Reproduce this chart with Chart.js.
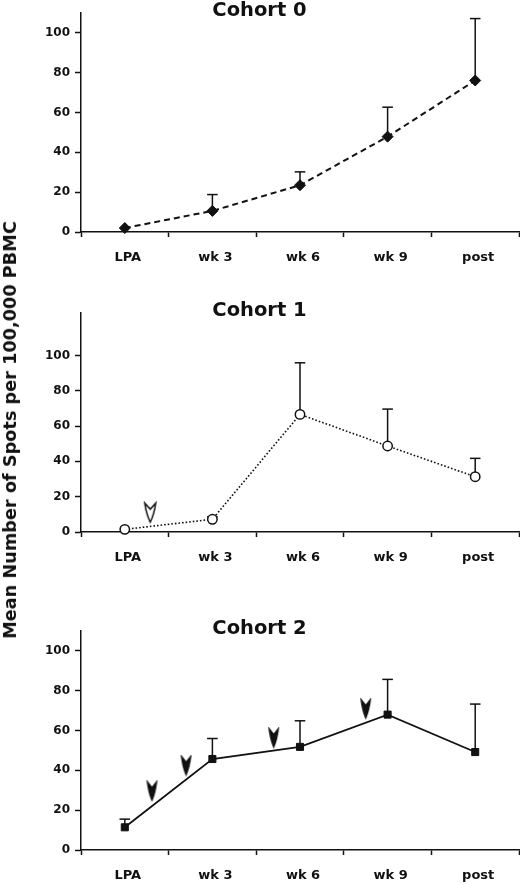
<!DOCTYPE html>
<html>
<head>
<meta charset="utf-8">
<script src="https://cdn.jsdelivr.net/npm/chart.js@4.4.1/dist/chart.umd.min.js"></script>
<style>
  html, body { margin: 0; padding: 0; background: #ffffff; }
  body { width: 520px; height: 884px; position: relative; overflow: hidden; }
  canvas { position: absolute; left: 0; }
  #ytitle {
    position: absolute; left: 9.5px; top: 430px;
    transform: translate(-50%, -50%) rotate(-90deg);
    font-family: "DejaVu Sans", sans-serif; font-weight: bold; font-size: 17.7px;
    color: #111; white-space: nowrap;
  }
</style>
</head>
<body>
<canvas id="c0" width="520" height="266" style="top:0px"></canvas>
<canvas id="c1" width="520" height="266" style="top:300px"></canvas>
<canvas id="c2" width="520" height="266" style="top:618px"></canvas>
<div id="ytitle">Mean Number of Spots per 100,000 PBMC</div>
<script>
// ---- data ----
const categories = ['LPA', 'wk 3', 'wk 6', 'wk 9', 'post'];
const yTickValues = [0, 20, 40, 60, 80, 100];
const titles = ['Cohort 0', 'Cohort 1', 'Cohort 2'];

const cohort0 = [2, 10.6, 23.5, 47.9, 76.1];
const cohort0Upper = [null, 18.8, 30.2, 62.7, 107.2];

const cohort1 = [1.5, 7.2, 66.6, 48.7, 31.3];
const cohort1Upper = [null, 8.6, 95.8, 69.6, 41.7];
const cohort1ArrowX = [0.29];
const cohort1ArrowY = [11];

const cohort2 = [11.4, 45.7, 51.8, 68, 49.2];
const cohort2Upper = [15.5, 56, 64.9, 85.7, 73.3];
const cohort2ArrowX = [0.31, 0.70, 1.70, 2.75];
const cohort2ArrowY = [29.6, 42.4, 56.3, 70.9];

const yMax = [110, 124, 110];

// ---- styling ----
const INK = '#111111';
Chart.defaults.font.family = '"DejaVu Sans", sans-serif';
Chart.defaults.font.weight = 'bold';
Chart.defaults.color = INK;

function arrowImage(w, h, fill) {
  const pad = 2;
  const c = document.createElement('canvas');
  c.width = w + pad * 2; c.height = h + pad * 2;
  const g = c.getContext('2d');
  g.beginPath();
  g.moveTo(pad, pad);
  g.lineTo(pad + w / 2, pad + h * 0.32);
  g.lineTo(pad + w, pad);
  g.quadraticCurveTo(pad + w * 0.85, pad + h * 0.6, pad + w / 2, pad + h);
  g.quadraticCurveTo(pad + w * 0.15, pad + h * 0.6, pad, pad);
  g.closePath();
  g.fillStyle = fill;
  g.fill();
  g.lineWidth = 1.5;
  g.strokeStyle = INK;
  g.stroke();
  return c;
}

function errorSets(vals, uppers) {
  const out = [];
  uppers.forEach((u, i) => {
    if (u == null) return;
    out.push({
      data: [{ x: categories[i], y: vals[i] }, { x: categories[i], y: u }],
      borderColor: INK, borderWidth: 1.5,
      pointStyle: 'line', pointRadius: [0, 5.3], pointHoverRadius: 0,
      pointBorderColor: INK, pointBorderWidth: 1.5,
      fill: false, order: 2, clip: false
    });
  });
  return out;
}

function arrowSet(xs, ys, img) {
  return {
    xAxisID: 'xa',
    data: xs.map((x, i) => ({ x: x, y: ys[i] })),
    showLine: false,
    pointStyle: img, pointRadius: 10,
    order: 3, clip: false
  };
}

function makeChart(id, idx, mainSet, extra) {
  new Chart(document.getElementById(id), {
    type: 'line',
    data: { labels: categories, datasets: [mainSet].concat(extra) },
    options: {
      responsive: false, animation: false,
      layout: { autoPadding: false, padding: { left: 0, right: 1, top: 0, bottom: 0 } },
      plugins: {
        legend: { display: false }, tooltip: { enabled: false },
        title: {
          display: true, text: titles[idx], color: INK,
          font: { size: 19.5, weight: 'bold' },
          padding: { top: -1, bottom: -9.4 }
        }
      },
      scales: {
        x: {
          type: 'category', offset: true,
          afterFit: s => { s.height = 34; s.paddingLeft = 0; s.paddingRight = 0; },
          grid: { display: true, offset: true, drawOnChartArea: false, drawTicks: true,
                  tickLength: 5, tickWidth: 1.5, tickColor: INK },
          border: { display: true, color: INK, width: 1.5 },
          ticks: { font: { size: 13, weight: 'bold' }, color: INK, padding: 13,
                   labelOffset: 3, maxRotation: 0, autoSkip: false }
        },
        xa: {
          type: 'linear', display: false, min: -0.5, max: 4.5,
          afterFit: s => { s.height = 0; s.paddingLeft = 0; s.paddingRight = 0; }
        },
        y: {
          min: 0, max: yMax[idx],
          afterBuildTicks: s => { s.ticks = yTickValues.map(v => ({ value: v })); },
          afterFit: s => { s.width = 81; },
          grid: { display: true, drawOnChartArea: false, drawTicks: true,
                  tickLength: 6, tickWidth: 1.5, tickColor: INK },
          border: { display: true, color: INK, width: 1.5 },
          ticks: { font: { size: 12, weight: 'bold' }, color: INK, padding: 5 }
        }
      }
    }
  });
}

makeChart('c0', 0, {
  data: cohort0, borderColor: INK, borderWidth: 2, borderDash: [6, 4],
  pointStyle: 'rectRot', pointRadius: 5.5, pointBackgroundColor: INK,
  pointBorderColor: INK, pointBorderWidth: 1, order: 1, clip: false, tension: 0
}, errorSets(cohort0, cohort0Upper));

makeChart('c1', 1, {
  data: cohort1, borderColor: INK, borderWidth: 1.6, borderDash: [1.6, 2],
  pointStyle: 'circle', pointRadius: 4.7, pointBackgroundColor: '#ffffff',
  pointBorderColor: INK, pointBorderWidth: 1.5, order: 1, clip: false, tension: 0
}, errorSets(cohort1, cohort1Upper).concat([
  arrowSet(cohort1ArrowX, cohort1ArrowY, arrowImage(11, 19, '#ffffff'))
]));

makeChart('c2', 2, {
  data: cohort2, borderColor: INK, borderWidth: 1.8,
  pointStyle: 'rect', pointRadius: 5, pointBackgroundColor: INK,
  pointBorderColor: INK, pointBorderWidth: 1, order: 1, clip: false, tension: 0
}, errorSets(cohort2, cohort2Upper).concat([
  arrowSet(cohort2ArrowX, cohort2ArrowY, arrowImage(9, 18, INK))
]));
</script>
</body>
</html>
